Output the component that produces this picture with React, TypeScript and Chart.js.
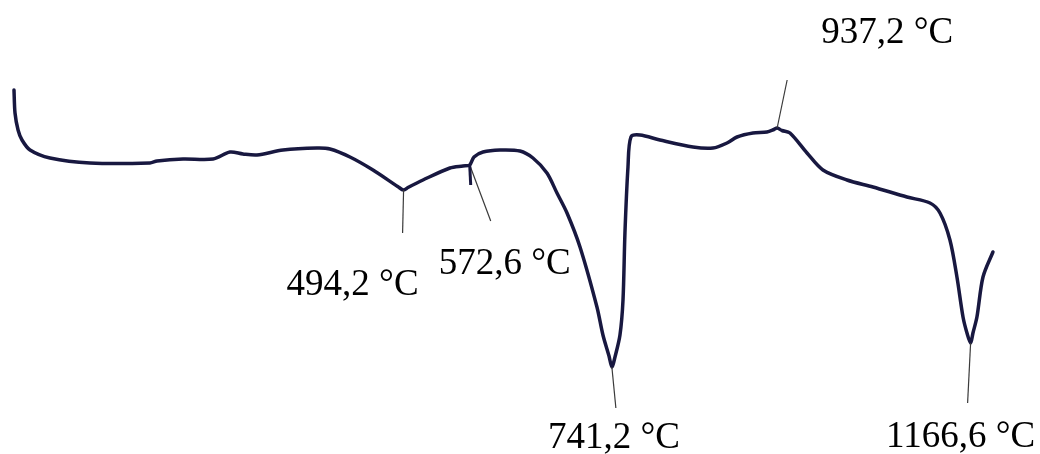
import React, { useEffect, useRef } from "react";
import { Chart, registerables } from "chart.js";

Chart.register(...registerables);

// Temperature (°C) along the DTA curve
const temperatures: number[] = [
  32.2, 33.4, 37.0, 41.7, 51.2, 74.9, 122.3, 193.5, 201.8, 232.6, 268.2, 288.3, 303.7, 320.4,
  351.2, 391.5, 406.9, 430.6, 457.9, 487.6, 494.2, 499.4, 517.2, 549.2, 564.6, 572.6, 577.7, 588.4, 608.5,
  632.2, 647.6, 664.2, 676.1, 688.0, 703.4, 723.5, 730.6, 737.8, 741.2, 744.9, 750.8, 754.4, 756.7, 760.3,
  763.8, 774.5, 798.2, 837.4, 861.1, 877.7, 889.6, 908.5, 925.1, 933.4, 937.2, 942.9, 952.4, 972.6, 991.5,
  1020.0, 1050.8, 1091.1, 1118.4, 1130.3, 1142.1, 1150.4, 1157.6, 1162.3, 1166.6, 1169.4, 1174.1, 1181.3, 1193.1,
];

// DTA signal (arbitrary units)
const signal: number[] = [
  36.4, 34.1, 32.4, 31.4, 30.4, 29.6, 29.1, 29.1, 29.3, 29.5, 29.5, 30.2, 30.0, 29.9,
  30.4, 30.6, 30.5, 29.7, 28.4, 26.73, 26.4, 26.65, 27.4, 28.6, 28.8, 28.9, 29.7, 30.2, 30.4,
  30.3, 29.6, 28.1, 26.1, 24.1, 20.7, 14.7, 11.9, 9.8, 8.7, 9.7, 11.9, 15.4, 22.1, 28.7,
  31.7, 31.9, 31.4, 30.7, 30.6, 31.1, 31.7, 32.1, 32.2, 32.45, 32.6, 32.35, 32.1, 30.1, 28.4,
  27.4, 26.7, 25.7, 25.1, 24.1, 21.4, 17.7, 13.7, 12.1, 11.1, 12.1, 13.7, 17.7, 20.2,
];

// Marked peaks
const peakTemps: number[] = [494.2, 572.6, 741.2, 937.2, 1166.6];
const peakSignal: number[] = [26.4, 28.9, 8.7, 32.6, 11.1];
const peakLabels: string[] = ["494,2 °C", "572,6 °C", "741,2 °C", "937,2 °C", "1166,6 °C"];

// Layout of marker ticks and labels relative to the peak (pixels)
const markerLayout = [
  { tx: -1, ty: 43, lx: -51, ly: 105, thick: 0 },
  { tx: 21, ty: 56, lx: 35, ly: 109, thick: 20 },
  { tx: 4, ty: 41, lx: 2, ly: 81, thick: 0 },
  { tx: 10, ty: -48, lx: 110, ly: -85, thick: 0 },
  { tx: -3, ty: 60, lx: -10, ly: 104, thick: 0 },
];

const peakPlugin = {
  id: "peakMarkers",
  afterDatasetsDraw(chart: any) {
    const ctx = chart.ctx;
    const xs = chart.scales.x;
    const ys = chart.scales.y;
    ctx.save();
    peakTemps.forEach((t, i) => {
      const px = xs.getPixelForValue(t);
      const py = ys.getPixelForValue(peakSignal[i]);
      const L = markerLayout[i];
      ctx.strokeStyle = "#3a3a3a";
      ctx.lineWidth = 1.2;
      ctx.beginPath();
      ctx.moveTo(px, py);
      ctx.lineTo(px + L.tx, py + L.ty);
      ctx.stroke();
      if (L.thick) {
        ctx.strokeStyle = "#181840";
        ctx.lineWidth = 3;
        ctx.beginPath();
        ctx.moveTo(px, py);
        ctx.lineTo(px + 1, py + L.thick);
        ctx.stroke();
      }
      ctx.fillStyle = "#000000";
      ctx.font = '37px "Liberation Serif", "Times New Roman", serif';
      ctx.textAlign = "center";
      ctx.textBaseline = "alphabetic";
      ctx.fillText(peakLabels[i], px + L.lx, py + L.ly);
    });
    ctx.restore();
  },
};

export default function App() {
  const ref = useRef<HTMLCanvasElement | null>(null);
  useEffect(() => {
    document.body.style.margin = "0";
    document.body.style.background = "#ffffff";
    if (!ref.current) return;
    const chart = new Chart(ref.current, {
      type: "line",
      data: {
        datasets: [
          {
            data: temperatures.map((t, i) => ({ x: t, y: signal[i] })),
            borderColor: "#181840",
            borderWidth: 3.5,
            pointRadius: 0,
            fill: false,
            tension: 0.3,
            borderCapStyle: "round",
            borderJoinStyle: "round",
          },
        ],
      },
      options: {
        animation: false,
        responsive: false,
        maintainAspectRatio: false,
        layout: { padding: 0 },
        plugins: { legend: { display: false }, tooltip: { enabled: false }, title: { display: false } },
        scales: {
          x: { type: "linear", min: 15.6, max: 1248.9, display: false },
          y: { type: "linear", min: 0, max: 45.4, display: false },
        },
      },
      plugins: [peakPlugin],
    });
    return () => chart.destroy();
  }, []);
  return (
    <div style={{ width: 1040, height: 454, background: "#ffffff" }}>
      <canvas ref={ref} width={1040} height={454} style={{ display: "block" }} />
    </div>
  );
}
